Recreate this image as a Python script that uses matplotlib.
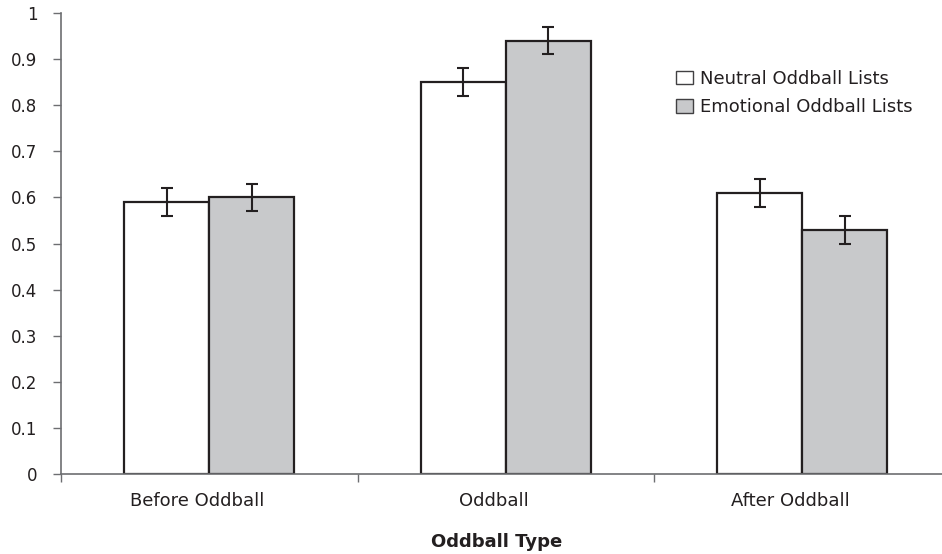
import matplotlib
matplotlib.use("Agg")
import matplotlib.pyplot as plt
import matplotlib.transforms as mtransforms
import numpy as np

categories = ["Before Oddball", "Oddball", "After Oddball"]
series_names = ["Neutral Oddball Lists", "Emotional Oddball Lists"]
neutral = [0.59, 0.85, 0.61]
emotional = [0.60, 0.94, 0.53]
neutral_err = [0.03, 0.03, 0.03]
emotional_err = [0.03, 0.03, 0.03]
yticks = [0, 0.1, 0.2, 0.3, 0.4, 0.5, 0.6, 0.7, 0.8, 0.9, 1]
ytick_labels = ["0", "0.1", "0.2", "0.3", "0.4", "0.5", "0.6", "0.7", "0.8", "0.9", "1"]
xlabel = "Oddball Type"

plt.rcParams['font.family'] = ['DejaVu Sans']
txt = "#231f20"
edge = "#231f20"
axis_col = "#6d6e71"

fig = plt.figure(figsize=(9.42, 5.54), dpi=100)
ax = fig.add_axes([61/942, 80/554, (942-61)/942, 461/554])

x = np.arange(len(categories))
w = 0.287
ax.bar(x - w/2, neutral, width=w, color="white", edgecolor=edge, linewidth=1.6,
       label=series_names[0], zorder=2)
ax.bar(x + w/2, emotional, width=w, color="#c8c9cb", edgecolor=edge, linewidth=1.6,
       label=series_names[1], zorder=2)
ax.errorbar(x - w/2, neutral, yerr=neutral_err, fmt="none", ecolor=edge,
            elinewidth=1.5, capsize=4.5, capthick=1.5, zorder=3)
ax.errorbar(x + w/2, emotional, yerr=emotional_err, fmt="none", ecolor=edge,
            elinewidth=1.5, capsize=4.5, capthick=1.5, zorder=3)

ax.set_xlim(-0.5, -0.5 + 881/296.5)
ax.set_ylim(0, 1)
ax.set_yticks(yticks)
ax.set_yticklabels(ytick_labels)
ax.set_xticks(x)
ax.set_xticklabels(categories)
ax.set_xticks([-0.5, 0.5, 1.5], minor=True)
ax.tick_params(axis="x", which="major", length=0, pad=13, labelsize=13, colors=txt)
ax.tick_params(axis="x", which="minor", length=6, width=1, color=axis_col, direction="out")
ax.tick_params(axis="y", length=6, width=1, color=axis_col, direction="out",
               labelsize=12, labelcolor=txt, pad=11)
shift = mtransforms.ScaledTranslation(-12/100, 0, fig.dpi_scale_trans)
for lab in ax.get_xticklabels():
    lab.set_transform(lab.get_transform() + shift)
for s in ["top", "right"]:
    ax.spines[s].set_visible(False)
for s in ["left", "bottom"]:
    ax.spines[s].set_color(axis_col)
    ax.spines[s].set_linewidth(1.2)

leg = ax.legend(loc="upper left", bbox_to_anchor=(676/942, 1 - 70/554),
                bbox_transform=fig.transFigure, frameon=False, fontsize=13,
                handlelength=0.94, handleheight=0.76, handletextpad=0.39,
                labelspacing=0.57, borderaxespad=0, borderpad=0)
for t in leg.get_texts():
    t.set_color(txt)
for p in leg.get_patches():
    p.set_linewidth(1.0)
    p.set_edgecolor("#414042")

fig.text(496.5/942, 1 - 542/554, xlabel, ha="center", va="center",
         fontsize=13, fontweight="bold", color=txt)

fig.savefig("out.png", dpi=100)
